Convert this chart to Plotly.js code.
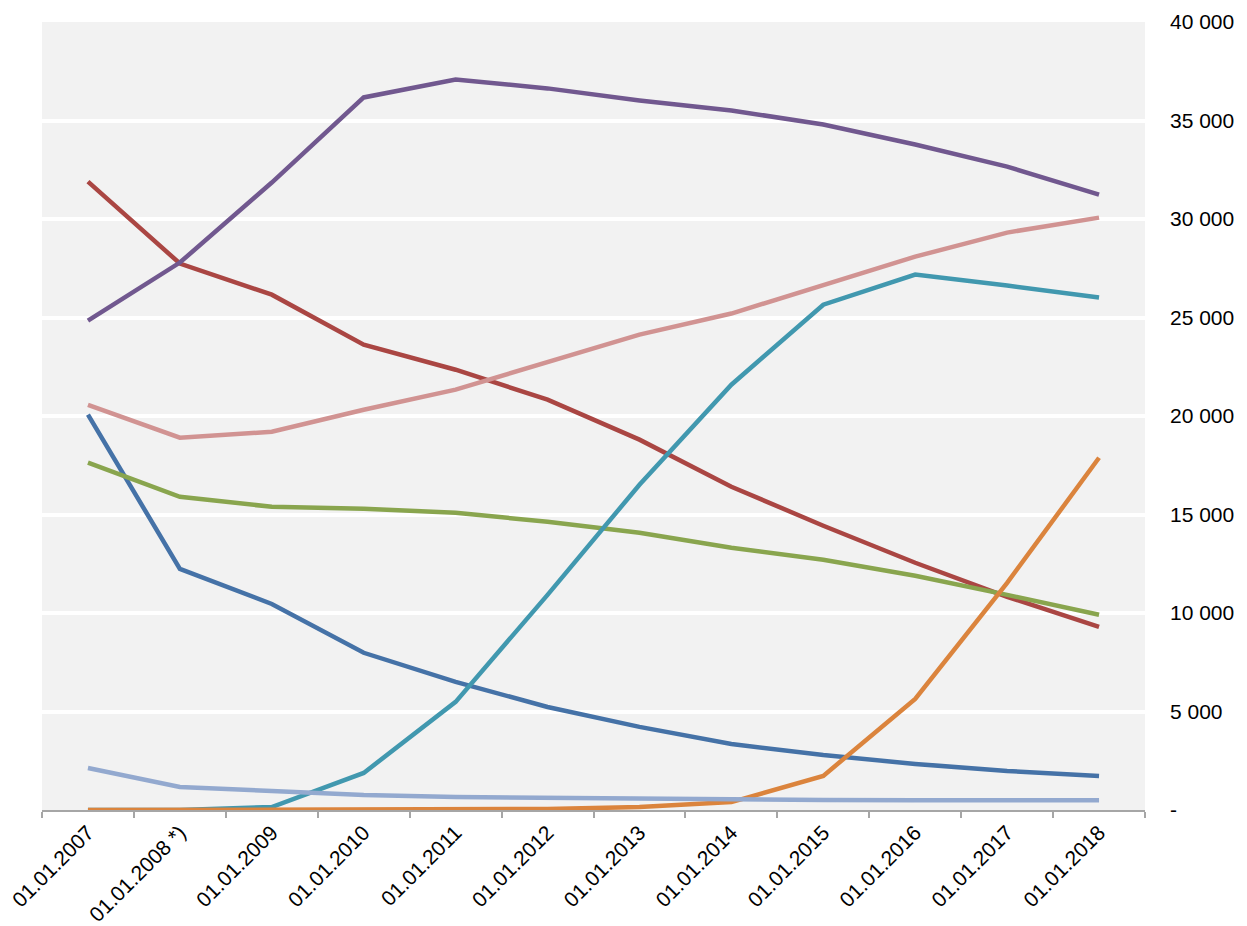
<!DOCTYPE html>
<html>
<head>
<meta charset="utf-8">
<script src="https://cdn.plot.ly/plotly-3.0.1.min.js"></script>
<style>html,body{margin:0;padding:0;background:#fff;}#chart{width:1247px;height:926px;}</style>
</head>
<body>
<div id="chart"></div>
<script>
const categories = ["01.01.2007","01.01.2008 *)","01.01.2009","01.01.2010","01.01.2011","01.01.2012","01.01.2013","01.01.2014","01.01.2015","01.01.2016","01.01.2017","01.01.2018"];
const blueValues     = [20070,12240,10460,7980,6500,5230,4220,3350,2790,2340,1980,1730];
const redValues      = [31900,27740,26160,23620,22350,20830,18800,16410,14430,12550,10820,9300];
const greenValues    = [17630,15900,15390,15290,15090,14630,14070,13310,12700,11890,10920,9910];
const purpleValues   = [24840,27790,31850,36170,37080,36630,36020,35510,34800,33780,32660,31240];
const tealValues     = [0,0,150,1880,5490,10920,16510,21590,25650,27180,26620,26010];
const orangeValues   = [0,0,20,30,30,50,150,400,1730,5640,11530,17880];
const lightBlueValues= [2130,1170,965,760,660,610,560,520,510,500,500,500];
const pinkValues     = [20570,18900,19200,20320,21340,22710,24130,25200,26620,28090,29310,30070];
const yTickValues = [0,5000,10000,15000,20000,25000,30000,35000,40000];
const yTickLabels = ["-","5 000","10 000","15 000","20 000","25 000","30 000","35 000","40 000"];

const seriesList = [
  {y: blueValues, color: "#4572A7"},
  {y: redValues, color: "#AA4643"},
  {y: greenValues, color: "#89A54E"},
  {y: purpleValues, color: "#71588F"},
  {y: tealValues, color: "#4198AF"},
  {y: orangeValues, color: "#DB843D"},
  {y: lightBlueValues, color: "#93A9CF"},
  {y: pinkValues, color: "#D19392"}
];
const traces = seriesList.map(s => ({
  type: "scatter", mode: "lines", x: categories, y: s.y,
  line: {color: s.color, width: 4.5}, hoverinfo: "skip"
}));

const layout = {
  width: 1247, height: 926,
  margin: {l: 42, r: 102, t: 22, b: 116, pad: 0},
  paper_bgcolor: "#ffffff",
  plot_bgcolor: "#f2f2f2",
  showlegend: false,
  font: {family: "Liberation Sans, Arial, sans-serif", size: 21, color: "#000"},
  xaxis: {
    type: "category", tickangle: -45, tickson: "boundaries",
    ticks: "outside", ticklen: 6, tickwidth: 2, tickcolor: "#a6a6a6",
    showline: true, linecolor: "#a6a6a6", linewidth: 2,
    showgrid: false, zeroline: false, automargin: false,
    range: [-0.5, 11.5]
  },
  yaxis: {
    side: "right", range: [0, 40000], tickvals: yTickValues, ticktext: yTickLabels,
    showgrid: true, gridcolor: "#ffffff", gridwidth: 4,
    zeroline: false, showline: false, ticks: "", ticklabelstandoff: 24,
    automargin: false
  }
};
Plotly.newPlot("chart", traces, layout, {displayModeBar: false, staticPlot: true});
</script>
</body>
</html>
